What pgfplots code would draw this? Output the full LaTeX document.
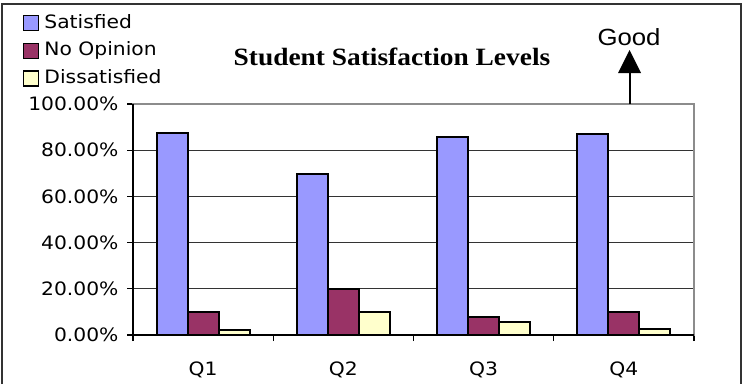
\documentclass[border=0pt]{standalone}
\usepackage{fontspec}
\setmainfont{DejaVu Sans}[FakeStretch=1.1]
\newfontfamily\titlefont{Liberation Serif}[FakeStretch=1.1]
\newfontfamily\arialfont{Liberation Sans}[FakeStretch=1.1]
\usepackage{pgfplots}
\pgfplotsset{compat=1.18}
\definecolor{sat}{HTML}{9999FF}
\definecolor{noop}{HTML}{993366}
\definecolor{dis}{HTML}{FFFFCC}
\begin{document}
\begin{tikzpicture}[x=1bp,y=1bp]
\useasboundingbox (0,0) rectangle (750,384);
\fill[white] (0,0) rectangle (750,384);
\begin{axis}[
  at={(133bp,49bp)}, anchor=south west,
  scale only axis, width=561bp, height=231bp,
  xmin=0.5, xmax=4.5, ymin=0, ymax=100,
  ybar=0pt, bar width=31bp,
  xtick={0.5,1.5,2.5,3.5,4.5},
  x tick label as interval,
  xticklabels={Q1,Q2,Q3,Q4},
  ytick={0,20,40,60,80,100},
  yticklabel={\pgfmathprintnumber[fixed,fixed zerofill,precision=2]{\tick}\%},
  /pgf/number format/assume math mode=true,
  tick align=outside, tick pos=left,
  major tick length=6bp,
  tick style={black, line width=1.2bp},
  ymajorgrids, grid style={black!80, line width=1.2bp},
  axis line style={draw=black!45, line width=1.2bp},
  ticklabel style={font=\fontsize{18.5}{21}\selectfont},
  yticklabel style={xshift=-5bp},
  xticklabel style={yshift=-17bp},
  legend style={at={(-0.196,1.385)}, anchor=north west, draw=none, fill=none,
    inner sep=0pt, row sep=10.5bp, column sep=5bp,
    font=\fontsize{18.5}{21}\selectfont,
    nodes={text height=13bp, text depth=4bp, inner sep=0pt, anchor=west}},
  legend cell align=left,
  legend image code/.code={\draw[#1, draw=black, line width=1.2bp] (0bp,-7bp) rectangle (15bp,8bp);},
  clip=false,
]
\addplot[fill=sat, draw=black, line width=2bp] coordinates {(1,87.6) (2,69.7) (3,85.9) (4,87.0)};
\addplot[fill=noop, draw=black, line width=2bp] coordinates {(1,10.1) (2,19.8) (3,7.7) (4,10.1)};
\addplot[fill=dis, draw=black, line width=2bp] coordinates {(1,2.2) (2,10.0) (3,5.6) (4,2.5)};
\legend{Satisfied, No Opinion, Dissatisfied}
\draw[black, line width=1.4bp] (rel axis cs:0,1) -- (rel axis cs:0,0) -- (rel axis cs:1,0);
\end{axis}
\node[font=\titlefont\bfseries\fontsize{25}{28}\selectfont] at (392,327) {Student Satisfaction Levels};
\node[font=\arialfont\fontsize{23.5}{27}\selectfont] at (629,347) {Good};
\draw[black, line width=2bp] (629.5,280) -- (629.5,312);
\fill[black] (618,311) -- (641,311) -- (629.5,334) -- cycle;
\draw[black!80, line width=2bp] (2,0) -- (2,380) -- (741,380) -- (741,0);
\end{tikzpicture}
\end{document}
